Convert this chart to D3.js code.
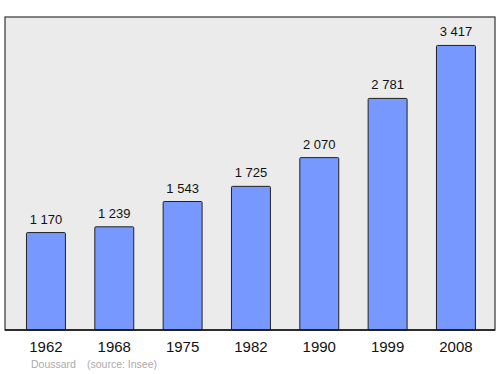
<!DOCTYPE html>
<html>
<head>
<meta charset="utf-8">
<script src="https://d3js.org/d3.v7.min.js"></script>
<style>
  body, html { margin: 0; padding: 0; background: #fff; }
  svg { display: block; }
</style>
</head>
<body>
<div id="chart"></div>
<script>
var years = ["1962", "1968", "1975", "1982", "1990", "1999", "2008"]
var population = [1170, 1239, 1543, 1725, 2070, 2781, 3417]
var townName = "Doussard"
var sourceText = "(source: Insee)"

var width = 500, height = 374
var frame = {left: 5, right: 495, top: 17, bottom: 330}

var svg = d3.select("#chart").append("svg")
	.attr("width", width)
	.attr("height", height)

// background panel
svg.append("rect")
	.attr("x", frame.left)
	.attr("y", frame.top)
	.attr("width", frame.right - frame.left)
	.attr("height", frame.bottom - frame.top)
	.attr("fill", "#ebebeb")
	.attr("stroke", "#333")
	.attr("stroke-width", 1.2)

var xScale = d3.scaleBand()
	.domain(years)
	.range([9.4, 492.5])
	.paddingInner(0.43)
	.paddingOuter(0.25)

var yScale = d3.scaleLinear()
	.domain([0, d3.max(population) * 1.1])
	.range([frame.bottom, frame.top])

var data = years.map((y, i) => ({year: y, value: population[i]}))

svg.selectAll("rect.bar")
	.data(data)
	.enter().append("rect")
	.attr("class", "bar")
	.attr("x", d => xScale(d.year))
	.attr("y", d => yScale(d.value))
	.attr("width", xScale.bandwidth())
	.attr("height", d => yScale(0) - yScale(d.value))
	.attr("rx", 1)
	.attr("fill", "#7799ff")
	.attr("stroke", "#222")
	.attr("stroke-width", 1)

svg.selectAll("text.val")
	.data(data)
	.enter().append("text")
	.attr("class", "val")
	.attr("x", d => xScale(d.year) + xScale.bandwidth() / 2)
	.attr("y", d => yScale(d.value) - 9)
	.attr("text-anchor", "middle")
	.attr("font-family", "Liberation Sans, Arial, sans-serif")
	.attr("font-size", "13px")
	.attr("fill", "#111")
	.text(d => d3.format(",")(d.value).replace(",", " "))

// baseline
svg.append("line")
	.attr("x1", frame.left)
	.attr("x2", frame.right)
	.attr("y1", frame.bottom)
	.attr("y2", frame.bottom)
	.attr("stroke", "#111")
	.attr("stroke-width", 1.5)

svg.selectAll("text.year")
	.data(years)
	.enter().append("text")
	.attr("class", "year")
	.attr("x", d => xScale(d) + xScale.bandwidth() / 2)
	.attr("y", 352)
	.attr("text-anchor", "middle")
	.attr("font-family", "Liberation Sans, Arial, sans-serif")
	.attr("font-size", "15px")
	.attr("fill", "#111")
	.text(d => d)

svg.append("text")
	.attr("x", 31)
	.attr("y", 368)
	.attr("font-family", "Liberation Sans, Arial, sans-serif")
	.attr("font-size", "10.5px")
	.attr("fill", "#aaa")
	.text(townName)

svg.append("text")
	.attr("x", 87)
	.attr("y", 368)
	.attr("font-family", "Liberation Sans, Arial, sans-serif")
	.attr("font-size", "10.5px")
	.attr("fill", "#aaa")
	.text(sourceText)
</script>
</body>
</html>
